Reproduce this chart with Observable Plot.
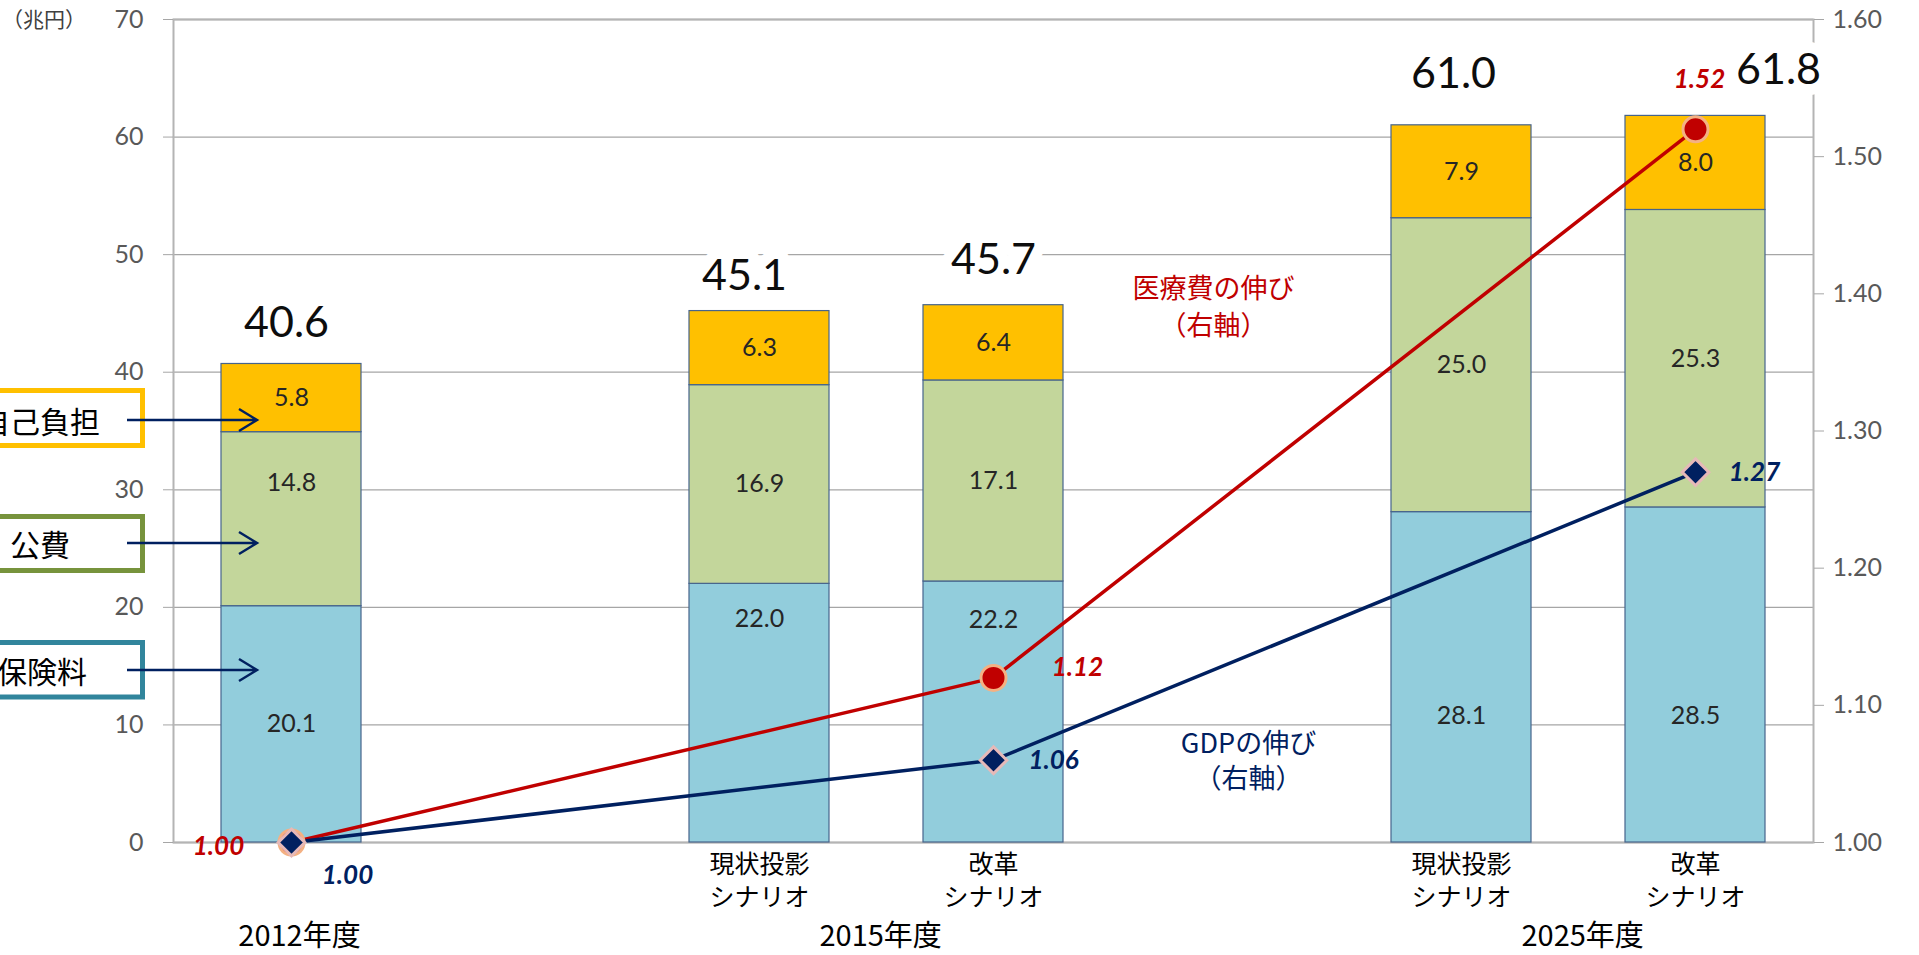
<!DOCTYPE html>
<html><head><meta charset="utf-8">
<script src="https://cdn.jsdelivr.net/npm/d3@7"></script>
<script src="https://cdn.jsdelivr.net/npm/@observablehq/plot@0.6"></script>
<style>body{margin:0;background:#fff;} svg{display:block}</style>
</head><body><div id="chart"></div>
<script>
// ---- data ----
const slotKeys = ["2012", "gapA", "2015-現状", "2015-改革", "gapB", "2025-現状", "2025-改革"];
const barCategories = ["2012", "2015-現状", "2015-改革", "2025-現状", "2025-改革"];
const tickLabels = ["", "現状投影\nシナリオ", "改革\nシナリオ", "現状投影\nシナリオ", "改革\nシナリオ"];
const components = ["保険料", "公費", "自己負担"];
const insurance = [20.1, 22.0, 22.2, 28.1, 28.5];
const publicFunds = [14.8, 16.9, 17.1, 25.0, 25.3];
const selfPay = [5.8, 6.3, 6.4, 7.9, 8.0];
const totals = [40.6, 45.1, 45.7, 61.0, 61.8];
const yearCategories = ["2012", "2015-現状", "2025-現状"];
const yearLabels = ["2012年度", "2015年度", "2025年度"];
const lineCategories = ["2012", "2015-改革", "2025-改革"];
const medicalGrowth = [1.00, 1.12, 1.52];
const gdpGrowth = [1.00, 1.06, 1.27];
const leftTicks = [0, 10, 20, 30, 40, 50, 60, 70];
const rightTicks = [1.00, 1.10, 1.20, 1.30, 1.40, 1.50, 1.60];
const legendLabels = ["自己負担", "公費", "保険料"];

// ---- layout / style ----
const W = 1919, H = 955, mL = 173, mR = 106, mT = 19, mB = 113;
const step = (W - mL - mR) / slotKeys.length;
const compColors = ["#92CDDC", "#C3D69B", "#FFC000"];
const legendColors = ["#FFC000", "#77933C", "#31859C"];
const RED = "#C00000", NAVY = "#002060";
const NUM = "Lato, 'Open Sans', sans-serif";
const JP = "'Noto Sans CJK JP', sans-serif";
const toLeft = v => (v - 1) / 0.6 * 70; // right axis 1.00–1.60 ↔ left 0–70
const fromLeft = d => 1 + d * 0.6 / 70;
const labelShift = {"2012|公費": 3.1, "2015-現状|保険料": 8.0, "2015-改革|保険料": 7.8, "2025-現状|保険料": -3.3, "2025-改革|保険料": -3.5};
const totalPos = [{dx: -5, dy: -41}, {dx: -15, dy: -35}, {dx: 0, dy: -45}, {dx: -8, dy: -51}, {dx: 83, dy: -46}];
const medLabelPos = [{dx: -73, dy: 4}, {dx: 84, dy: -10}, {dx: 4, dy: -50}];
const gdpLabelPos = [{dx: 56, dy: 33}, {dx: 60, dy: 0}, {dx: 59, dy: 1}];

// ---- derived tables ----
const stackRows = [];
const labelRows = [];
const totalRows = [];
barCategories.forEach((c, i) => {
  let base = 0;
  [insurance, publicFunds, selfPay].forEach((arr, j) => {
    const v = arr[i];
    stackRows.push({cat: c, comp: components[j], value: v});
    labelRows.push({cat: c, y: base + v / 2 + (labelShift[c + "|" + components[j]] || 0), text: v.toFixed(1)});
    base += v;
  });
  totalRows.push({cat: c, y: base, text: totals[i].toFixed(1)});
});
const medRows = lineCategories.map((c, i) => ({cat: c, y: toLeft(medicalGrowth[i]), text: medicalGrowth[i].toFixed(2)}));
const gdpRows = lineCategories.map((c, i) => ({cat: c, y: toLeft(gdpGrowth[i]), text: gdpGrowth[i].toFixed(2)}));
const tickMap = Object.fromEntries(barCategories.map((c, i) => [c, tickLabels[i]]));
const yearRows = yearCategories.map((c, i) => ({cat: c, text: yearLabels[i], dx: i === 0 ? 8 : step / 2 + 4}));

const lineLabelMarks = [];
medRows.forEach((r, i) => lineLabelMarks.push(Plot.text([r], {x: "cat", y: "y", text: "text", dx: medLabelPos[i].dx, dy: medLabelPos[i].dy, fill: RED, fontSize: 26, fontWeight: "bold", fontStyle: "italic", fontFamily: NUM})));
gdpRows.forEach((r, i) => lineLabelMarks.push(Plot.text([r], {x: "cat", y: "y", text: "text", dx: gdpLabelPos[i].dx, dy: gdpLabelPos[i].dy, fill: NAVY, fontSize: 26, fontWeight: "bold", fontStyle: "italic", fontFamily: NUM})));

const totalMarks = totalRows.map((r, i) => Plot.text([r], {x: "cat", y: "y", text: "text", dx: totalPos[i].dx, dy: totalPos[i].dy, fill: "#0d0d0d", fontSize: 43, fontFamily: NUM, stroke: "white", strokeWidth: 22, strokeLinejoin: "round"}));

const plot = Plot.plot({
  width: W, height: H,
  marginLeft: mL, marginRight: mR, marginTop: mT, marginBottom: mB,
  style: {fontFamily: NUM, background: "#fff"},
  x: {type: "band", domain: slotKeys, paddingInner: 0.4, paddingOuter: 0.2},
  y: {domain: [0, 70]},
  color: {domain: components, range: compColors},
  marks: [
    Plot.gridY(leftTicks, {stroke: "#a6a6a6", strokeOpacity: 1, strokeWidth: 1.3}),
    Plot.frame({stroke: "#b4b4b4", strokeWidth: 2}),
    Plot.axisY(leftTicks, {anchor: "left", tickSize: 10, tickPadding: 20, stroke: "#a6a6a6", fill: "#595959", fontSize: 25, fontFamily: NUM, label: null}),
    Plot.axisY(rightTicks.map(toLeft), {anchor: "right", tickSize: 10, tickPadding: 9, stroke: "#a6a6a6", fill: "#595959", fontSize: 25, fontFamily: NUM, label: null, tickFormat: d => fromLeft(d).toFixed(2)}),
    Plot.axisX(barCategories, {anchor: "bottom", tickSize: 0, tickPadding: 7, fontSize: 25, lineHeight: 1.32, fill: "#000", fontFamily: JP, label: null, tickFormat: d => tickMap[d]}),
    Plot.barY(stackRows, {x: "cat", y: "value", fill: "comp", stroke: "#46648c", strokeWidth: 1.2}),
    Plot.text(labelRows, {x: "cat", y: "y", text: "text", fill: "#262626", fontSize: 25, fontFamily: NUM}),
    Plot.line(medRows, {x: "cat", y: "y", stroke: RED, strokeWidth: 3.5}),
    Plot.line(gdpRows, {x: "cat", y: "y", stroke: NAVY, strokeWidth: 3.5}),
    Plot.dot(medRows, {x: "cat", y: "y", r: 12.5, fill: RED, stroke: "#F4B183", strokeWidth: 3}),
    Plot.dot(gdpRows, {x: "cat", y: "y", symbol: "diamond2", r: 12, fill: NAVY, stroke: "#E6B9B8", strokeWidth: 3}),
    Plot.text(["医療費の伸び\n（右軸）"], {x: () => "gapB", y: () => 45.75, text: d => d, dx: -14, fill: RED, fontSize: 27, lineHeight: 1.35, fontFamily: JP}),
    Plot.text(["GDPの伸び\n（右軸）"], {x: () => "gapB", y: () => 7.1, text: d => d, dx: 21, fill: NAVY, fontSize: 27, lineHeight: 1.3, fontFamily: JP}),
    ...totalMarks,
    ...lineLabelMarks,
    ...yearRows.map(r => Plot.text([r], {x: "cat", text: "text", frameAnchor: "bottom", lineAnchor: "middle", dy: 94, dx: r.dx, fill: "#000", fontSize: 29, fontFamily: JP}))
  ]
});
document.getElementById("chart").appendChild(plot);

// ---- left-side legend boxes with arrows (annotation) ----
const svg = d3.select(plot);
const leg = svg.append("g").attr("text-anchor", "start");
const boxes = [
  {top: 390.5, bottom: 445.5, textEnd: 100, cy: 420},
  {top: 516.5, bottom: 570.5, textEnd: 70, cy: 543},
  {top: 642.5, bottom: 697, textEnd: 87, cy: 670}
];
boxes.forEach((b, i) => {
  leg.append("rect").attr("x", -60).attr("y", b.top).attr("width", 202.5).attr("height", b.bottom - b.top)
    .attr("fill", "#fff").attr("stroke", legendColors[i]).attr("stroke-width", 5);
  leg.append("text").attr("x", b.textEnd).attr("y", b.cy).attr("text-anchor", "end").attr("dominant-baseline", "central")
    .attr("font-family", JP).attr("font-size", 30).attr("fill", "#000").text(legendLabels[i]);
  leg.append("path").attr("d", `M127,${b.cy}H257M239,${b.cy - 11}L257,${b.cy}L239,${b.cy + 11}`)
    .attr("fill", "none").attr("stroke", NAVY).attr("stroke-width", 2.5);
});
leg.append("text").attr("x", 2).attr("y", 18).attr("text-anchor", "start").attr("dominant-baseline", "central")
  .attr("font-family", JP).attr("font-size", 21).attr("fill", "#404040").text("（兆円）");
</script></body></html>
